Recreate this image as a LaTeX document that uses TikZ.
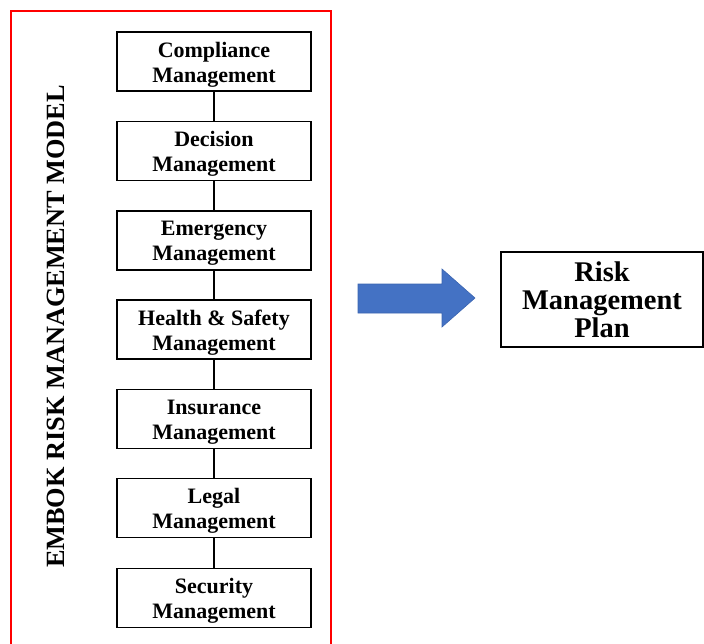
\documentclass[tikz,border=0pt]{standalone}
\usepackage{fontspec}
\setmainfont{Liberation Serif}
\definecolor{arrowblue}{HTML}{4472C4}
\definecolor{arrowedge}{HTML}{3A64B0}
\begin{document}
\begin{tikzpicture}[x=1pt,y=-1pt,
  mbox/.style={draw=black, line width=1.3pt, minimum width=194pt, minimum height=59pt,
    inner sep=0pt},
  mtext/.style={inner sep=0pt, yshift=-3pt, align=center, font=\fontsize{22}{25}\selectfont\bfseries},
  link/.style={draw=black, line width=2.2pt},
  planbox/.style={draw=black, line width=1.3pt, minimum width=202pt, minimum height=95pt,
    inner sep=0pt, align=center, font=\fontsize{28.5}{28}\selectfont\bfseries}]
\useasboundingbox (0,0) rectangle (704,643);
\draw[red, line width=2.2pt] (11,660) -- (11,11) -- (331,11) -- (331,660);
\node[rotate=90, inner sep=0pt, font=\fontsize{26.3}{28}\selectfont\bfseries] (title) at (56,326.5) {EMBOK RISK MANAGEMENT MODEL};
\node[mbox, label={[mtext]center:{Compliance\\Management}}] (b1) at (214,61.5) {};
\node[mbox, label={[mtext]center:{Decision\\Management}}] (b2) at (214,151) {};
\node[mbox, label={[mtext]center:{Emergency\\Management}}] (b3) at (214,240.5) {};
\node[mbox, label={[mtext]center:{Health \& Safety\\Management}}] (b4) at (214,329.5) {};
\node[mbox, label={[mtext]center:{Insurance\\Management}}] (b5) at (214,419) {};
\node[mbox, label={[mtext]center:{Legal\\Management}}] (b6) at (214,508) {};
\node[mbox, label={[mtext]center:{Security\\Management}}] (b7) at (214,598) {};
\foreach \a/\b in {b1/b2,b2/b3,b3/b4,b4/b5,b5/b6,b6/b7}
  \draw[link] (\a.south) -- (\b.north);
\node[planbox] (plan) at (602,299.5) {Risk\\Management\\Plan};
\filldraw[fill=arrowblue, draw=arrowedge, line width=0.6pt]
  (358,284) -- (442,284) -- (442,269) -- (475,298) -- (442,327) -- (442,313) -- (358,313) -- cycle;
\end{tikzpicture}
\end{document}
